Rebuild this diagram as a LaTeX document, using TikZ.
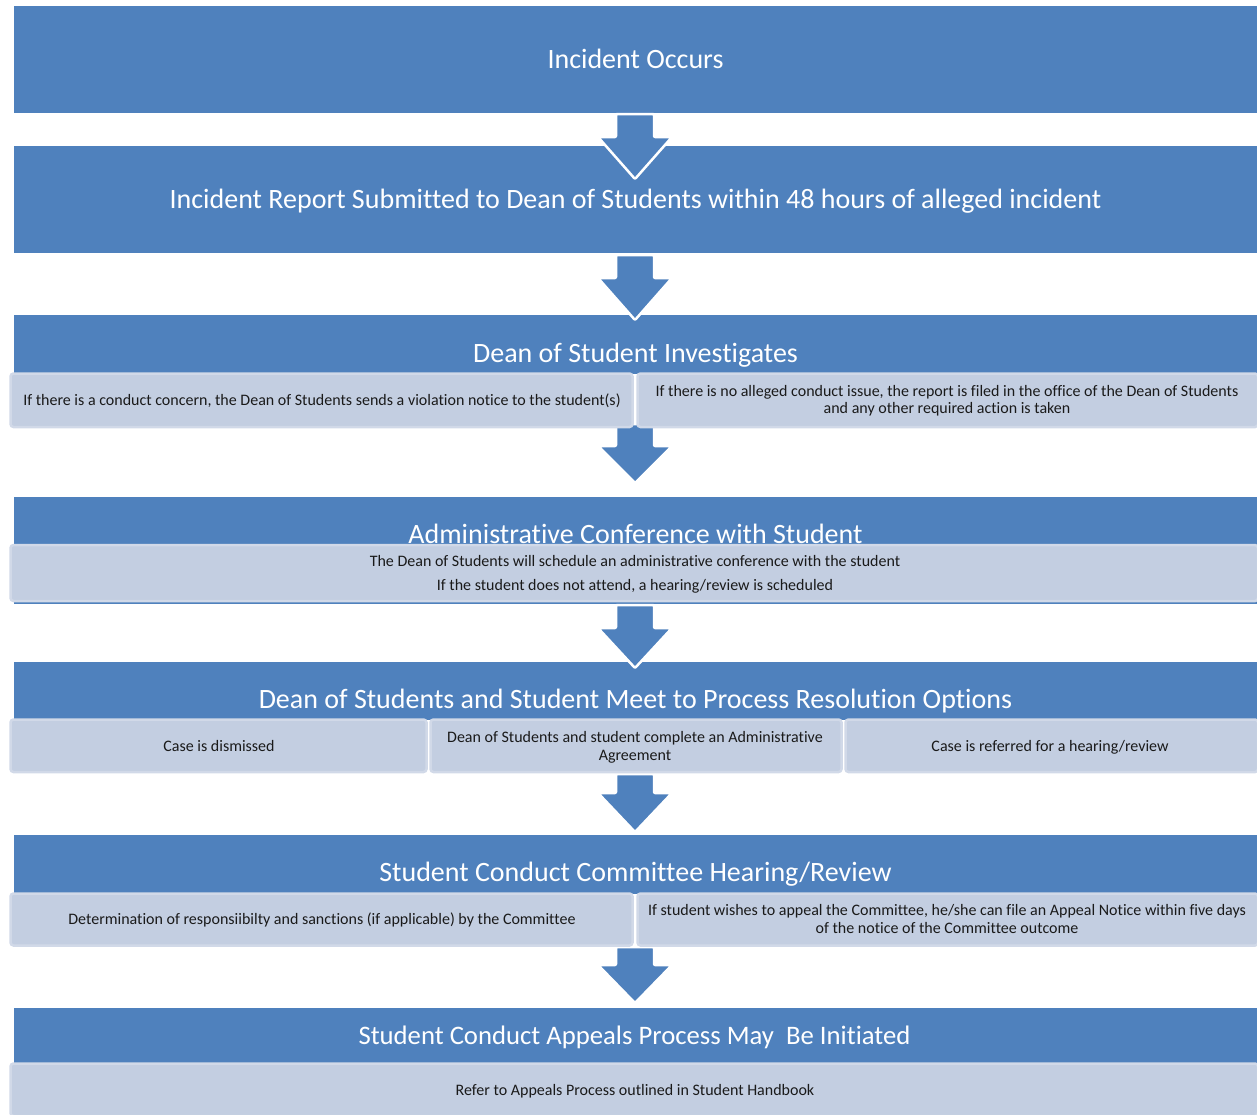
\documentclass[tikz,border=0pt]{standalone}
\usepackage{fontspec}
\setmainfont[Ligatures=NoCommon]{Carlito}
\definecolor{mainblue}{HTML}{4F81BD}
\definecolor{subfill}{HTML}{C3CEE1}
\definecolor{subedge}{HTML}{D1D9E8}
\definecolor{subtext}{HTML}{1A1A1A}
\tikzset{
  stage/.style={fill=mainblue, draw=none},
  subbox/.style={fill=subfill, draw=subedge, line width=2.5pt, rounded corners=3pt},
  titletxt/.style={text=white, font=\fontsize{28}{32}\selectfont, inner sep=0pt,
                   text height=23pt, text depth=5pt},
  subtxt/.style={text=subtext, font=\fontsize{16}{18}\selectfont, align=center, inner sep=0pt,
                 text height=13pt, text depth=3pt},
  blockarrow/.style={fill=mainblue, draw=white, line width=2.5pt, rounded corners=1pt, line join=round},
}
\newcommand\blockarr[3]{%
  \draw[blockarrow] (616,#1) -- (616,#2) -- (598,#2) -- (635,#3) -- (672,#2) -- (654,#2) -- (654,#1) -- cycle;}
\begin{document}
\begin{tikzpicture}[x=1pt,y=-1pt]
\useasboundingbox (0,0) rectangle (1257,1114);
% stage boxes
\fill[stage] (14,6) rectangle (1257,113);
\fill[stage] (14,146) rectangle (1257,253);
\fill[stage] (14,315) rectangle (1257,374);
\fill[stage] (14,497) rectangle (1257,604);
\fill[stage] (14,662) rectangle (1257,720);
\fill[stage] (14,835) rectangle (1257,894);
\fill[stage] (14,1008) rectangle (1257,1064);
% titles
\node[titletxt] (t1) at (635.5,59) {Incident Occurs};
\node[titletxt] (t2) at (635.5,199) {Incident Report Submitted to Dean of Students within 48 hours of alleged incident};
\node[titletxt] (t3) at (635.5,353) {Dean of Student Investigates};
\node[titletxt] (t4) at (635.5,534) {Administrative Conference with Student};
\node[titletxt] (t5) at (635.5,699) {Dean of Students and Student Meet to Process Resolution Options};
\node[titletxt] (t6) at (635.5,872) {Student Conduct Committee Hearing/Review};
\node[titletxt, font=\fontsize{26.7}{30}\selectfont] (t7) at (634.5,1035) {Student Conduct Appeals Process May\ \ Be Initiated};
% block arrows
\blockarr{114}{137}{179}
\blockarr{255}{278}{320}
\blockarr{424}{446}{483}
\blockarr{605}{628}{668}
\blockarr{774}{793}{832}
\blockarr{947}{965}{1003}
% sub boxes
\draw[subbox] (10.5,373.5) rectangle (632.5,427);
\draw[subbox] (637.5,373.5) rectangle (1258,427);
\draw[subbox] (10.5,545) rectangle (1258,601);
\draw[subbox] (10.5,719.5) rectangle (426.5,772);
\draw[subbox] (430.5,719.5) rectangle (841.5,772);
\draw[subbox] (845.5,719.5) rectangle (1258,772);
\draw[subbox] (10.5,893.5) rectangle (632.5,945.5);
\draw[subbox] (637.5,893.5) rectangle (1258,945.5);
\draw[subbox] (10.5,1063.5) rectangle (1258,1116);
% sub texts
\node[subtxt] (a1) at (322,400) {If there is a conduct concern, the Dean of Students sends a violation notice to the student(s)};
\node[subtxt, font=\fontsize{16}{17}\selectfont] (a2) at (947,408) {If there is no alleged conduct issue, the report is filed in the office of the Dean of Students\\and any other required action is taken};
\node[subtxt, font=\fontsize{16}{24}\selectfont] (b1) at (635,585) {The Dean of Students will schedule an administrative conference with the student\\If the student does not attend, a hearing/review is scheduled};
\node[subtxt] (c1) at (219,746) {Case is dismissed};
\node[subtxt, font=\fontsize{16}{18}\selectfont] (c2) at (635,755) {Dean of Students and student complete an Administrative\\Agreement};
\node[subtxt] (c3) at (1050,746) {Case is referred for a hearing/review};
\node[subtxt] (d1) at (322,919) {Determination of responsiibilty and sanctions (if applicable) by the Committee};
\node[subtxt, font=\fontsize{16}{18}\selectfont] (d2) at (947,928) {If student wishes to appeal the Committee, he/she can file an Appeal Notice within five days\\of the notice of the Committee outcome};
\node[subtxt] (e1) at (635,1090) {Refer to Appeals Process outlined in Student Handbook};
\end{tikzpicture}
\end{document}
